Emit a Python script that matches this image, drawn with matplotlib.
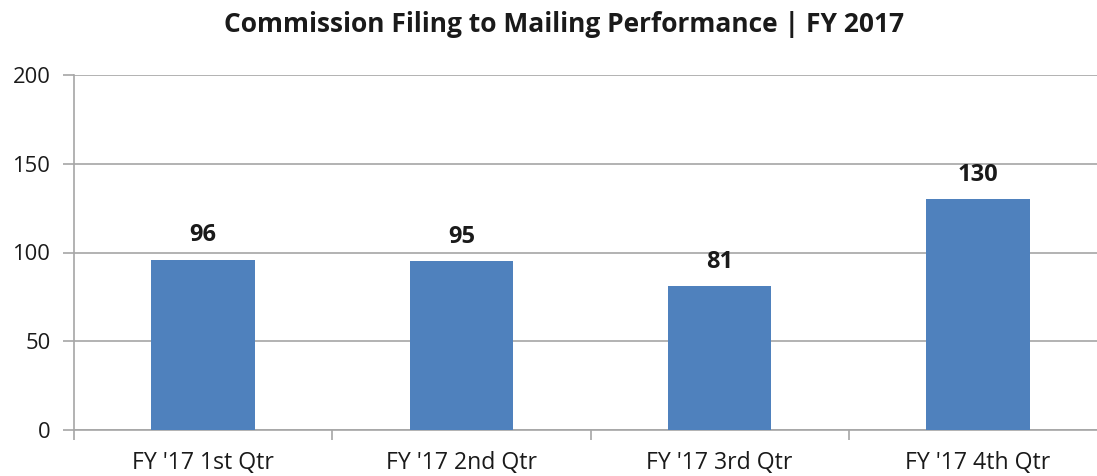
import matplotlib
matplotlib.use("Agg")
import matplotlib.pyplot as plt

categories = ["FY '17 1st Qtr", "FY '17 2nd Qtr", "FY '17 3rd Qtr", "FY '17 4th Qtr"]
values = [96, 95, 81, 130]
yticks = [0, 50, 100, 150, 200]
title = "Commission Filing to Mailing Performance | FY 2017"

plt.rcParams['font.family'] = ['Open Sans', 'DejaVu Sans']

W, H = 1097, 476
fig = plt.figure(figsize=(W / 100, H / 100), dpi=100)
left, right = 74, 1107
bottom, top = 430, 75
ax = fig.add_axes([left / W, 1 - bottom / H, (right - left) / W, (bottom - top) / H])

x = list(range(len(categories)))
ax.bar(x, values, width=0.4, color='#4F81BD', zorder=3)
for xi, v in zip(x, values):
    ax.annotate(str(v), (xi, v), xytext=(0, 9), textcoords='offset points',
                ha='center', va='bottom', fontsize=17, fontweight='bold', color='#1a1a1a')

ax.set_xlim(-0.5, len(categories) - 0.5)
ax.set_ylim(0, 200)
ax.set_yticks(yticks)
ax.set_yticklabels([str(t) for t in yticks], fontsize=15.8, color='#1a1a1a')
ax.set_xticks(x)
ax.set_xticklabels(categories, fontsize=16.6, color='#1a1a1a')
ax.tick_params(axis='x', length=0, pad=15)
ax.set_xticks([i - 0.5 for i in range(len(categories) + 1)], minor=True)
ax.tick_params(axis='x', which='minor', length=7, color='#A6A6A6', width=1.2)
ax.tick_params(axis='y', length=8, color='#A6A6A6', width=1.2, pad=9)

ax.grid(axis='y', color='#A6A6A6', linewidth=1.2, zorder=0)
for s in ['top', 'right']:
    ax.spines[s].set_visible(False)
for s in ['left', 'bottom']:
    ax.spines[s].set_color('#A6A6A6')
    ax.spines[s].set_linewidth(1.2)

fig.text(564 / W, 1 - 24 / H, title, ha='center', va='center', fontsize=19,
         fontweight='bold', color='#1a1a1a')

fig.savefig('out.png', dpi=100)
